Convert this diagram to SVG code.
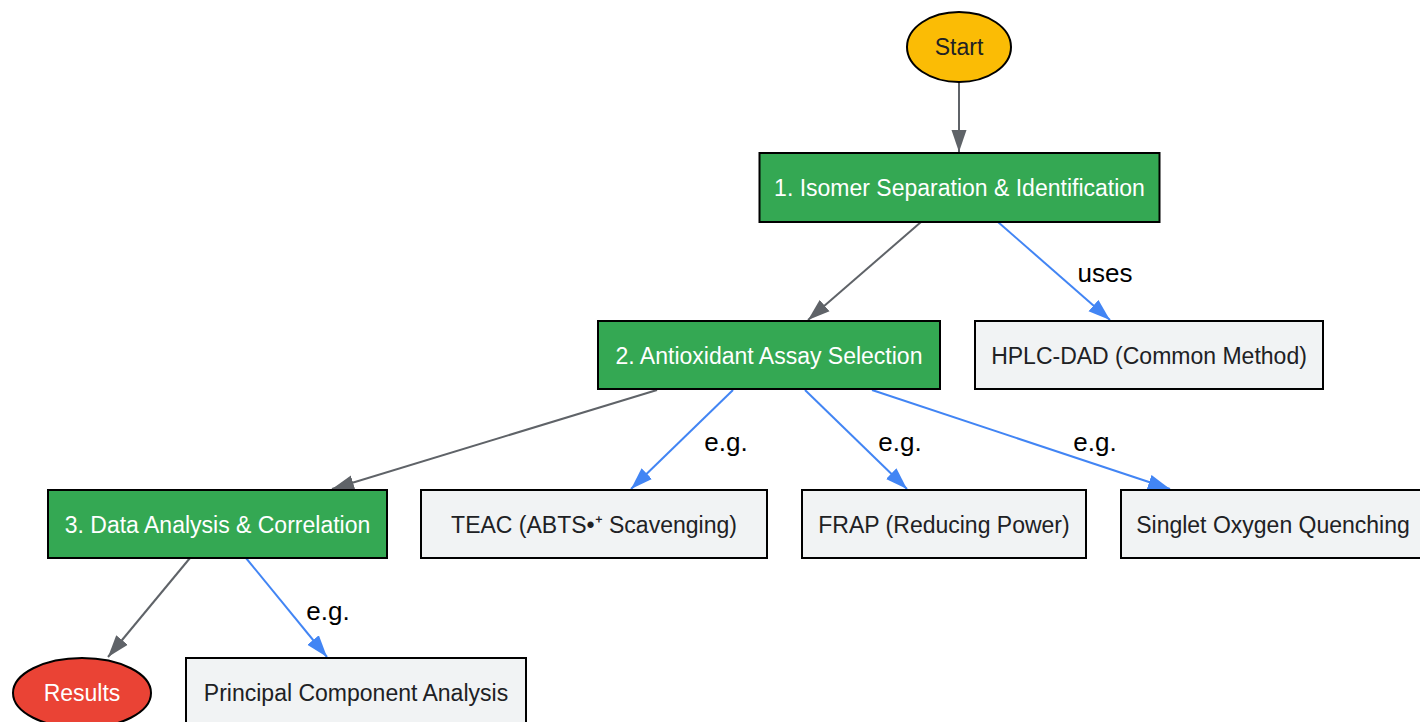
<svg xmlns="http://www.w3.org/2000/svg" width="1420" height="722" viewBox="0 0 1420 722">
<style>
text{font-family:"Liberation Sans",Arial,sans-serif;font-size:23px;text-anchor:middle}
.box{stroke:#000;stroke-width:2}
.green{fill:#34A853}
.grey{fill:#F1F3F4}
.wt{fill:#fff}
.dt{fill:#202124}
.lbl{font-size:26px;fill:#000}
.eg{stroke:#5F6368;stroke-width:2;fill:none}
.eb{stroke:#4285F4;stroke-width:2;fill:none}
</style>
<defs>
<marker id="ag" markerUnits="userSpaceOnUse" markerWidth="22" markerHeight="16" refX="22" refY="8" orient="auto"><path d="M0,0.5 L22,8 L0,15.5 z" fill="#5F6368"/></marker>
<marker id="ab" markerUnits="userSpaceOnUse" markerWidth="22" markerHeight="16" refX="22" refY="8" orient="auto"><path d="M0,0.5 L22,8 L0,15.5 z" fill="#4285F4"/></marker>
</defs>
<rect width="1420" height="722" fill="#fff"/>
<g id="edges">
<line class="eg" x1="959" y1="82" x2="959" y2="152" marker-end="url(#ag)"/>
<line class="eg" x1="921" y1="222" x2="808" y2="320" marker-end="url(#ag)"/>
<line class="eb" x1="998" y1="222" x2="1110" y2="320" marker-end="url(#ab)"/>
<text class="lbl" x="1105" y="282">uses</text>
<line class="eg" x1="657" y1="390" x2="332" y2="489" marker-end="url(#ag)"/>
<line class="eb" x1="733" y1="390" x2="631" y2="489" marker-end="url(#ab)"/>
<text class="lbl" x="726" y="451">e.g.</text>
<line class="eb" x1="805" y1="390" x2="907" y2="489" marker-end="url(#ab)"/>
<text class="lbl" x="900" y="451">e.g.</text>
<line class="eb" x1="872" y1="390" x2="1170" y2="489" marker-end="url(#ab)"/>
<text class="lbl" x="1095" y="451">e.g.</text>
<line class="eg" x1="190" y1="558" x2="108" y2="657" marker-end="url(#ag)"/>
<line class="eb" x1="246" y1="558" x2="327" y2="657" marker-end="url(#ab)"/>
<text class="lbl" x="328" y="620">e.g.</text>
</g>
<g id="start"><ellipse class="box" cx="959" cy="47" rx="52" ry="35" fill="#FBBC05"/><text class="dt" x="959" y="55">Start</text></g>
<g id="n1"><rect class="box green" x="759.5" y="153" width="400" height="69"/><text class="wt" x="959.5" y="196">1. Isomer Separation &amp; Identification</text></g>
<g id="n2"><rect class="box green" x="598" y="321" width="342" height="68"/><text class="wt" x="769" y="364">2. Antioxidant Assay Selection</text></g>
<g id="hplc"><rect class="box grey" x="975" y="321" width="348" height="68"/><text class="dt" x="1149" y="364">HPLC-DAD (Common Method)</text></g>
<g id="n3"><rect class="box green" x="48" y="490" width="339" height="68"/><text class="wt" x="217.5" y="533">3. Data Analysis &amp; Correlation</text></g>
<g id="teac"><rect class="box grey" x="421" y="490" width="346" height="68"/><text class="dt" x="594" y="533">TEAC (ABTS•⁺ Scavenging)</text></g>
<g id="frap"><rect class="box grey" x="802" y="490" width="284" height="68"/><text class="dt" x="944" y="533">FRAP (Reducing Power)</text></g>
<g id="singlet"><rect class="box grey" x="1121" y="490" width="304" height="68"/><text class="dt" x="1273" y="533">Singlet Oxygen Quenching</text></g>
<g id="results"><ellipse class="box" cx="82" cy="693" rx="69" ry="35" fill="#EA4335"/><text class="wt" x="82" y="701">Results</text></g>
<g id="pca"><rect class="box grey" x="186" y="658" width="340" height="80"/><text class="dt" x="356" y="701">Principal Component Analysis</text></g>
</svg>
